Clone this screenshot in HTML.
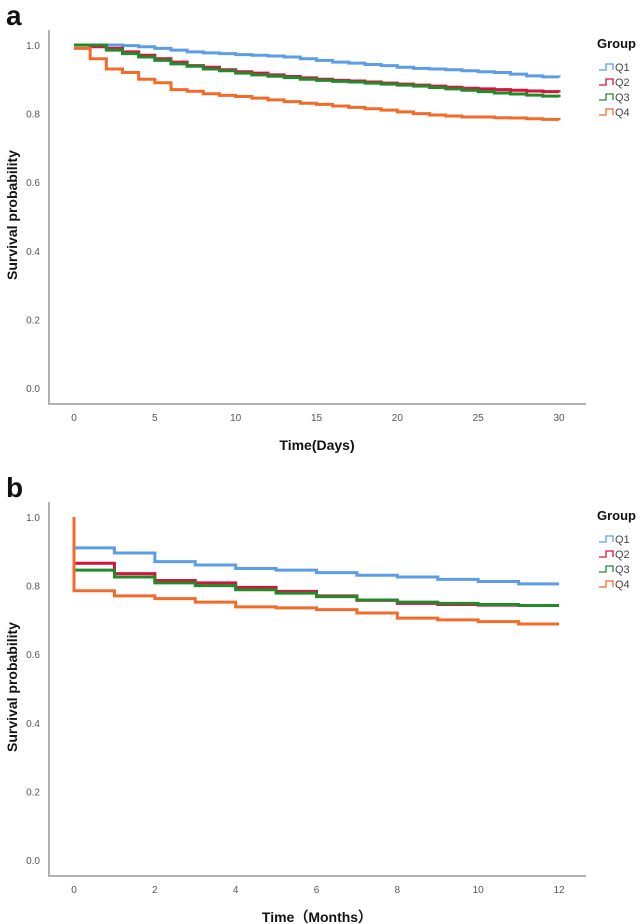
<!DOCTYPE html>
<html><head><meta charset="utf-8"><style>
html,body{margin:0;padding:0;background:#fff;}
svg{display:block;font-family:"Liberation Sans",Arial,sans-serif;}
</style></head><body>
<svg id="chart" width="644" height="924" viewBox="0 0 644 924" xmlns="http://www.w3.org/2000/svg"></svg>
<script>
const groups = ["Q1","Q2","Q3","Q4"];
const colors = ["#5C9DE8","#D3143C","#238A2C","#F36B2B"];
const yTicks = [0,0.2,0.4,0.6,0.8,1.0];
const daysTicks = [0,5,10,15,20,25,30];
const monthsTicks = [0,2,4,6,8,10,12];
// Panel a: survival at each day 0..30
const daysQ1 = [1,1,1,0.998,0.995,0.99,0.985,0.98,0.977,0.975,0.972,0.97,0.968,0.965,0.96,0.955,0.95,0.947,0.943,0.94,0.935,0.932,0.93,0.928,0.925,0.922,0.92,0.915,0.91,0.907,0.905];
const daysQ2 = [1,0.995,0.99,0.98,0.97,0.96,0.95,0.94,0.935,0.928,0.922,0.918,0.913,0.908,0.904,0.9,0.897,0.895,0.892,0.889,0.886,0.883,0.88,0.877,0.874,0.872,0.87,0.868,0.866,0.864,0.862];
const daysQ3 = [1,1,0.985,0.975,0.965,0.955,0.945,0.938,0.93,0.925,0.918,0.913,0.909,0.905,0.9,0.897,0.894,0.892,0.889,0.886,0.883,0.88,0.876,0.872,0.868,0.864,0.86,0.857,0.854,0.851,0.848];
const daysQ4 = [0.99,0.96,0.93,0.92,0.9,0.89,0.87,0.865,0.858,0.853,0.85,0.845,0.84,0.835,0.83,0.827,0.822,0.818,0.814,0.81,0.805,0.8,0.796,0.793,0.79,0.79,0.788,0.787,0.785,0.783,0.781];
// Panel b: survival in each month interval 0..12 (after initial value 1.0)
const monthsQ1 = [0.91,0.895,0.87,0.86,0.85,0.845,0.838,0.83,0.825,0.818,0.812,0.805];
const monthsQ2 = [0.865,0.835,0.815,0.808,0.795,0.783,0.77,0.757,0.748,0.745,0.743,0.742];
const monthsQ3 = [0.845,0.825,0.808,0.8,0.788,0.778,0.768,0.758,0.752,0.748,0.745,0.742];
const monthsQ4 = [0.785,0.77,0.762,0.752,0.738,0.735,0.73,0.72,0.705,0.7,0.695,0.688];

const NS="http://www.w3.org/2000/svg";
const svg=document.getElementById('chart');
function mk(tag,attrs,parent){const e=document.createElementNS(NS,tag);for(const k in attrs)e.setAttribute(k,attrs[k]);(parent||svg).appendChild(e);return e;}

function panel(off, letter, xMax, xTicks, xTitle, series, dailyMode){
  const g=mk('g',{});
  
  
  const x0=74, x1=559;
  const xs=v=>x0+(x1-x0)*v/xMax;
  const ys=v=>off+388-343*v;
  const lt=mk('text',{x:6,y:off+25,'font-size':28,'font-weight':'bold',fill:'#111'},g);
  lt.textContent=letter;
  
  
  const ax=mk('path',{d:`M49 ${off+30} V${off+404} H586`,stroke:'#b0b0b0','stroke-width':2,fill:'none'},g);
  
  
  yTicks.forEach(t=>{
    const tx=mk('text',{x:40,y:ys(t)+4,'font-size':10,fill:'#555','text-anchor':'end'},g);
    tx.textContent=t.toFixed(1);
    
    
  });
  xTicks.forEach(t=>{
    const tx=mk('text',{x:xs(t),y:off+421,'font-size':10,fill:'#555','text-anchor':'middle'},g);
    tx.textContent=t;
    
    
  });
  const yt=mk('text',{x:0,y:0,'font-size':14,'font-weight':'bold',fill:'#111','text-anchor':'middle',transform:`translate(17 ${off+215}) rotate(-90)`},g);
  yt.textContent='Survival probability';
  
  
  const xt=mk('text',{x:317,y:off+450,'font-size':14,'font-weight':'bold',fill:'#111','text-anchor':'middle'},g);
  xt.textContent=xTitle;
  
  
  series.forEach((vals,i)=>{
    let d;
    if(dailyMode){
      d=`M${xs(0)} ${ys(vals[0])}`;
      for(let k=1;k<vals.length;k++){d+=` H${xs(k)} V${ys(vals[k])}`;}
      d+=` H${xs(xMax)}`;
    } else {
      d=`M${xs(0)} ${ys(1)} V${ys(vals[0])}`;
      for(let k=1;k<vals.length;k++){d+=` H${xs(k)} V${ys(vals[k])}`;}
      d+=` H${xs(xMax)}`;
    }
    const p=mk('path',{d:d,stroke:colors[i],'stroke-width':3,fill:'none'},g);
    
    
  });
  const lg=mk('g',{},g);
  
  
  const gt=mk('text',{x:597,y:off+48,'font-size':13,'font-weight':'bold',fill:'#111'},lg);
  gt.textContent='Group';
  
  
  groups.forEach((q,i)=>{
    const yy=off+66+i*15;
    const ic=mk('path',{d:`M599 ${yy+4} H606 V${yy-2} H613 V${yy+4}`,stroke:colors[i],'stroke-width':1.3,fill:'none'},lg);
    
    
    const tq=mk('text',{x:615,y:yy+5,'font-size':11,fill:'#444'},lg);
    tq.textContent=q;
    
    
  });
}
panel(0,'a',30,daysTicks,'Time(Days)',[daysQ1,daysQ2,daysQ3,daysQ4],true);
panel(472,'b',12,monthsTicks,'Time\uFF08Months\uFF09',[monthsQ1,monthsQ2,monthsQ3,monthsQ4],false);
</script>
</body></html>
